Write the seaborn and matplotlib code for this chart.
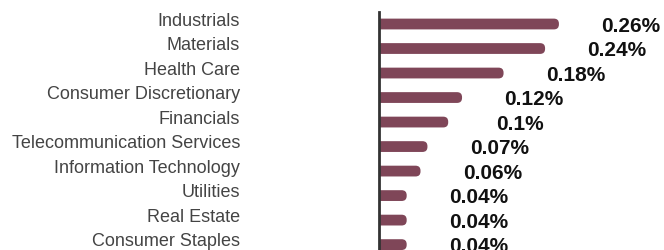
import matplotlib
matplotlib.use("Agg")
import matplotlib.pyplot as plt
from matplotlib.patches import FancyBboxPatch
from matplotlib.transforms import ScaledTranslation
import seaborn as sns
import pandas as pd

sectors = ["Industrials", "Materials", "Health Care", "Consumer Discretionary",
           "Financials", "Telecommunication Services", "Information Technology",
           "Utilities", "Real Estate", "Consumer Staples"]
weights = [0.26, 0.24, 0.18, 0.12, 0.1, 0.07, 0.06, 0.04, 0.04, 0.04]
value_labels = ["0.26%", "0.24%", "0.18%", "0.12%", "0.1%", "0.07%",
                "0.06%", "0.04%", "0.04%", "0.04%"]

sns.set_theme(style="white")
plt.rcParams["font.family"] = ["Liberation Sans", "DejaVu Sans"]

df = pd.DataFrame({"sector": sectors, "weight": weights})

W, H = 664, 250
fig = plt.figure(figsize=(W / 100, H / 100), dpi=100)
left_px = 379
ax = fig.add_axes([left_px / W, 0, (W - left_px) / W, 238 / H])

bar_color = "#7f4658"
sns.barplot(data=df, x="weight", y="sector", orient="h", color=bar_color,
            width=0.44, ax=ax, saturation=1)

px_per_unit = 692.0
ax.set_xlim(0, (W - left_px) / px_per_unit)
ax.set_ylim(9.22, -0.49)

# replace rectangles with rounded-end bars
fig.canvas.draw()
rects = list(ax.patches)
y_per_px = (9.22 + 0.49) / 238
x_per_px = 1 / px_per_unit
for r in rects:
    x0, y0 = r.get_x(), r.get_y()
    w, h = r.get_width(), r.get_height()
    r.remove()
    rad_px = 5
    p = FancyBboxPatch((x0 - 0.02, y0), w + 0.02, h,
                       boxstyle=f"round,pad=0,rounding_size={rad_px * x_per_px}",
                       mutation_aspect=y_per_px / x_per_px,
                       facecolor=bar_color, edgecolor="none", clip_on=True)
    ax.add_patch(p)

for i, (v, lab) in enumerate(zip(weights, value_labels)):
    ax.text(v + 72 / px_per_unit, i, lab, ha="center", va="center_baseline",
            fontsize=15, fontweight="bold", color="#111111", clip_on=False)

for s in ["top", "right", "bottom"]:
    ax.spines[s].set_visible(False)
ax.spines["left"].set_color("#333333")
ax.spines["left"].set_linewidth(2)
ax.set_xticks([])
ax.set_xlabel("")
ax.set_ylabel("")
ax.tick_params(axis="y", length=0, pad=139 * 0.72, labelsize=13,
               labelcolor="#444444")
off = ScaledTranslation(0, 5 / 100, fig.dpi_scale_trans)
for t in ax.get_yticklabels():
    t.set_transform(t.get_transform() + off)

fig.savefig("out.png", dpi=100)
